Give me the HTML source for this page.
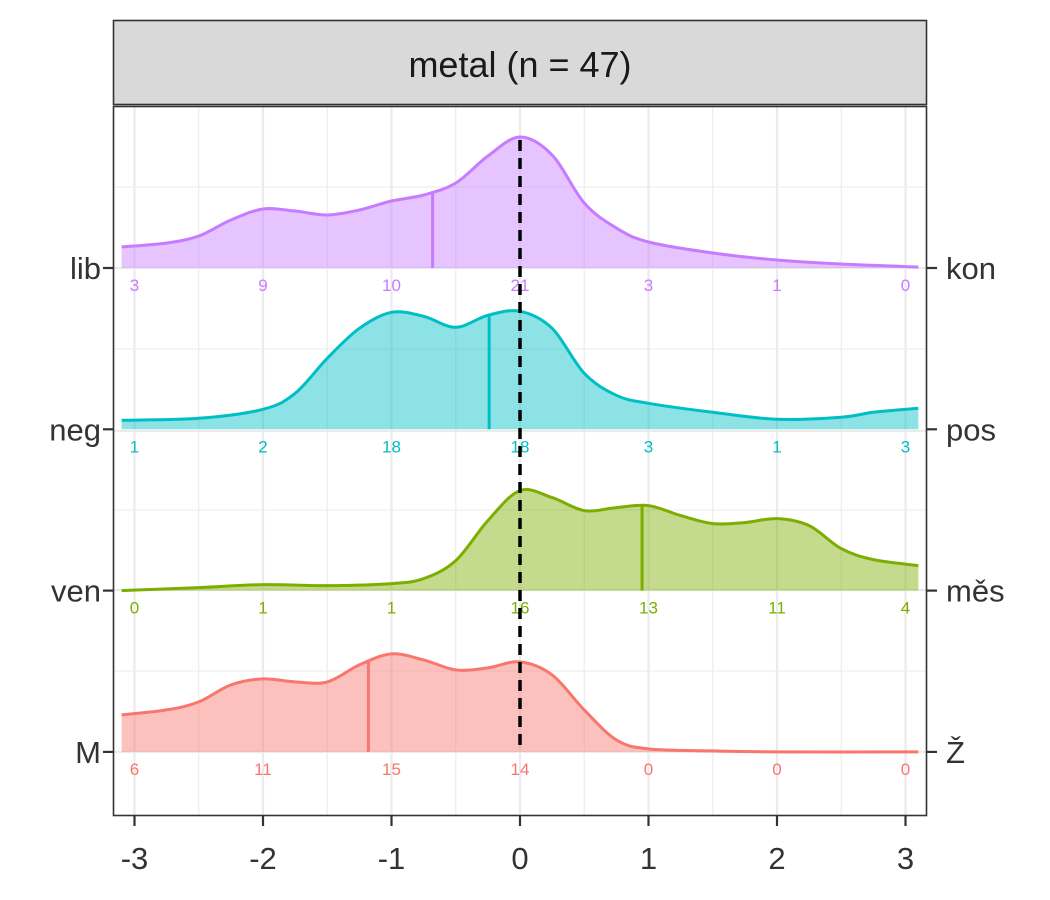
<!DOCTYPE html>
<html><head><meta charset="utf-8"><style>
body{margin:0;background:#fff;}
svg{display:block;font-family:"Liberation Sans",Arial,sans-serif;}
</style></head><body>
<svg id="chart" width="1050" height="900">
<rect x="0" y="0" width="1050" height="900" fill="#fff"/>
<g id="grid"></g>
<g id="ridges"></g>
<g id="overlay"></g>
<rect x="113.5" y="106.5" width="813" height="709" fill="none" stroke="#333" stroke-width="1.6"/>
<rect x="113.5" y="20.5" width="813" height="84" fill="#d9d9d9" stroke="#333" stroke-width="1.6"/>
<text x="520" y="77" text-anchor="middle" font-size="36" fill="#1a1a1a">metal (n = 47)</text>
<g id="axes"></g>
</svg>
<script>
const xTicks=[-3,-2,-1,0,1,2,3];
const xTickLabels=["-3","-2","-1","0","1","2","3"];
const leftLabels=["lib","neg","ven","M"];
const rightLabels=["kon","pos","měs","Ž"];
const colors=["#C77CFF","#00BFC4","#7CAE00","#F8766D"];
const libX=[-3.1,-2.75,-2.5,-2.25,-2,-1.75,-1.5,-1.25,-1,-0.75,-0.5,-0.25,0,0.25,0.5,0.75,1,1.5,2,2.5,3.1];
const libD=[21,25,32,48,59,57,53,58,67,73,85,112,131,113,65,40,26,15,8,4,1];
const negX=[-3.1,-2.5,-2,-1.75,-1.5,-1.25,-1,-0.75,-0.5,-0.25,0,0.25,0.5,0.75,1,1.5,2,2.5,2.75,3.1];
const negD=[9,11,20,36,71,101,117,113,102,114,118,101,56,34,26,17,10,12,17,21];
const venX=[-3.1,-2.5,-2,-1.5,-1,-0.75,-0.5,-0.25,0,0.25,0.5,0.75,1,1.25,1.5,1.75,2,2.25,2.5,2.75,3.1];
const venD=[0,3,6,5,7,12,30,70,100,93,80,83,85,75,67,68,72,65,42,31,25];
const mX=[-3.1,-2.75,-2.5,-2.25,-2,-1.75,-1.5,-1.25,-1,-0.75,-0.5,-0.25,0,0.25,0.5,0.75,1,1.5,2,3.1];
const mD=[37,42,50,67,73,70,70,87,98,92,82,84,90,77,42,12,3,1,0,0];
const medians=[-0.68,-0.24,0.95,-1.18];
const libCounts=[3,9,10,21,3,1,0];
const negCounts=[1,2,18,18,3,1,3];
const venCounts=[0,1,1,16,13,11,4];
const mCounts=[6,11,15,14,0,0,0];
const seriesX=[libX,negX,venX,mX];
const seriesD=[libD,negD,venD,mD];
const counts=[libCounts,negCounts,venCounts,mCounts];
const cats=[0,1,2,3];

const xs=v=>520+v*128.5;
const base=i=>268+i*161.3;
const NS="http://www.w3.org/2000/svg";
function mk(tag,attrs,parent){const e=document.createElementNS(NS,tag);for(const k in attrs)e.setAttribute(k,attrs[k]);parent.appendChild(e);return e;}
const grid=document.getElementById('grid'),ridges=document.getElementById('ridges'),ov=document.getElementById('overlay'),axes=document.getElementById('axes');
for(let v=-3;v<=3;v+=0.5){
  const g=mk('line',{x1:xs(v),x2:xs(v),y1:106,y2:816,stroke:'#ebebeb','stroke-width':Number.isInteger(v)?2.2:1.1},grid);
  
  
}
const hy=[187,268,349,431,510,590,671,752];
hy.forEach((y,k)=>{
  const g=mk('line',{x1:113,x2:927,y1:y,y2:y,stroke:'#ebebeb','stroke-width':k%2?2.2:1.1},grid);
  
  
});
function smooth(pts){
  let d=`M${pts[0][0]},${pts[0][1]}`;
  for(let i=0;i<pts.length-1;i++){
    const p0=pts[Math.max(i-1,0)],p1=pts[i],p2=pts[i+1],p3=pts[Math.min(i+2,pts.length-1)];
    const c1=[p1[0]+(p2[0]-p0[0])/6,p1[1]+(p2[1]-p0[1])/6];
    const c2=[p2[0]-(p3[0]-p1[0])/6,p2[1]-(p3[1]-p1[1])/6];
    d+=` C${c1[0]},${c1[1]} ${c2[0]},${c2[1]} ${p2[0]},${p2[1]}`;
  }
  return d;
}
function interp(X,D,v){for(let i=0;i<X.length-1;i++){if(v>=X[i]&&v<=X[i+1]){const t=(v-X[i])/(X[i+1]-X[i]);return D[i]+t*(D[i+1]-D[i]);}}return 0;}
cats.forEach(i=>{
  const b=base(i),X=seriesX[i],D=seriesD[i];
  const pts=X.map((x,k)=>[xs(x),b-D[k]]);
  const line=smooth(pts);
  const f=mk('path',{d:line+` L${xs(X[X.length-1])},${b} L${xs(X[0])},${b} Z`,fill:colors[i],'fill-opacity':0.45,stroke:'none'},ridges);
  
  
  const l=mk('path',{d:line,fill:'none',stroke:colors[i],'stroke-width':3},ridges);
  
  
  const m=medians[i];
  const ml=mk('line',{x1:xs(m),x2:xs(m),y1:b,y2:b-interp(X,D,m),stroke:colors[i],'stroke-width':3},ridges);
  
  
  counts[i].forEach((c,k)=>{
    const t=mk('text',{x:xs(xTicks[k]),y:b+23,'text-anchor':'middle','font-size':17,fill:colors[i]},ov);
    t.textContent=c;
    
    
  });
  const lt=mk('text',{x:101,y:b+11,'text-anchor':'end','font-size':31,fill:'#333'},axes);
  lt.textContent=leftLabels[i];
  
  
  const rt=mk('text',{x:946,y:b+11,'text-anchor':'start','font-size':31,fill:'#333'},axes);
  rt.textContent=rightLabels[i];
  
  
  const t1=mk('line',{x1:103,x2:113,y1:b,y2:b,stroke:'#333','stroke-width':2.2},axes);
  
  
  const t2=mk('line',{x1:927,x2:937,y1:b,y2:b,stroke:'#333','stroke-width':2.2},axes);
  
  
});
const dl=mk('line',{x1:xs(0),x2:xs(0),y1:140,y2:752,stroke:'#000','stroke-width':3.5,'stroke-dasharray':'11,7'},ov);


xTicks.forEach((v,k)=>{
  const tk=mk('line',{x1:xs(v),x2:xs(v),y1:816,y2:826,stroke:'#333','stroke-width':2.2},axes);
  
  
  const t=mk('text',{x:xs(v),y:869,'text-anchor':'middle','font-size':31,fill:'#333'},axes);
  t.textContent=xTickLabels[k];
  
  
});
</script>
</body></html>
